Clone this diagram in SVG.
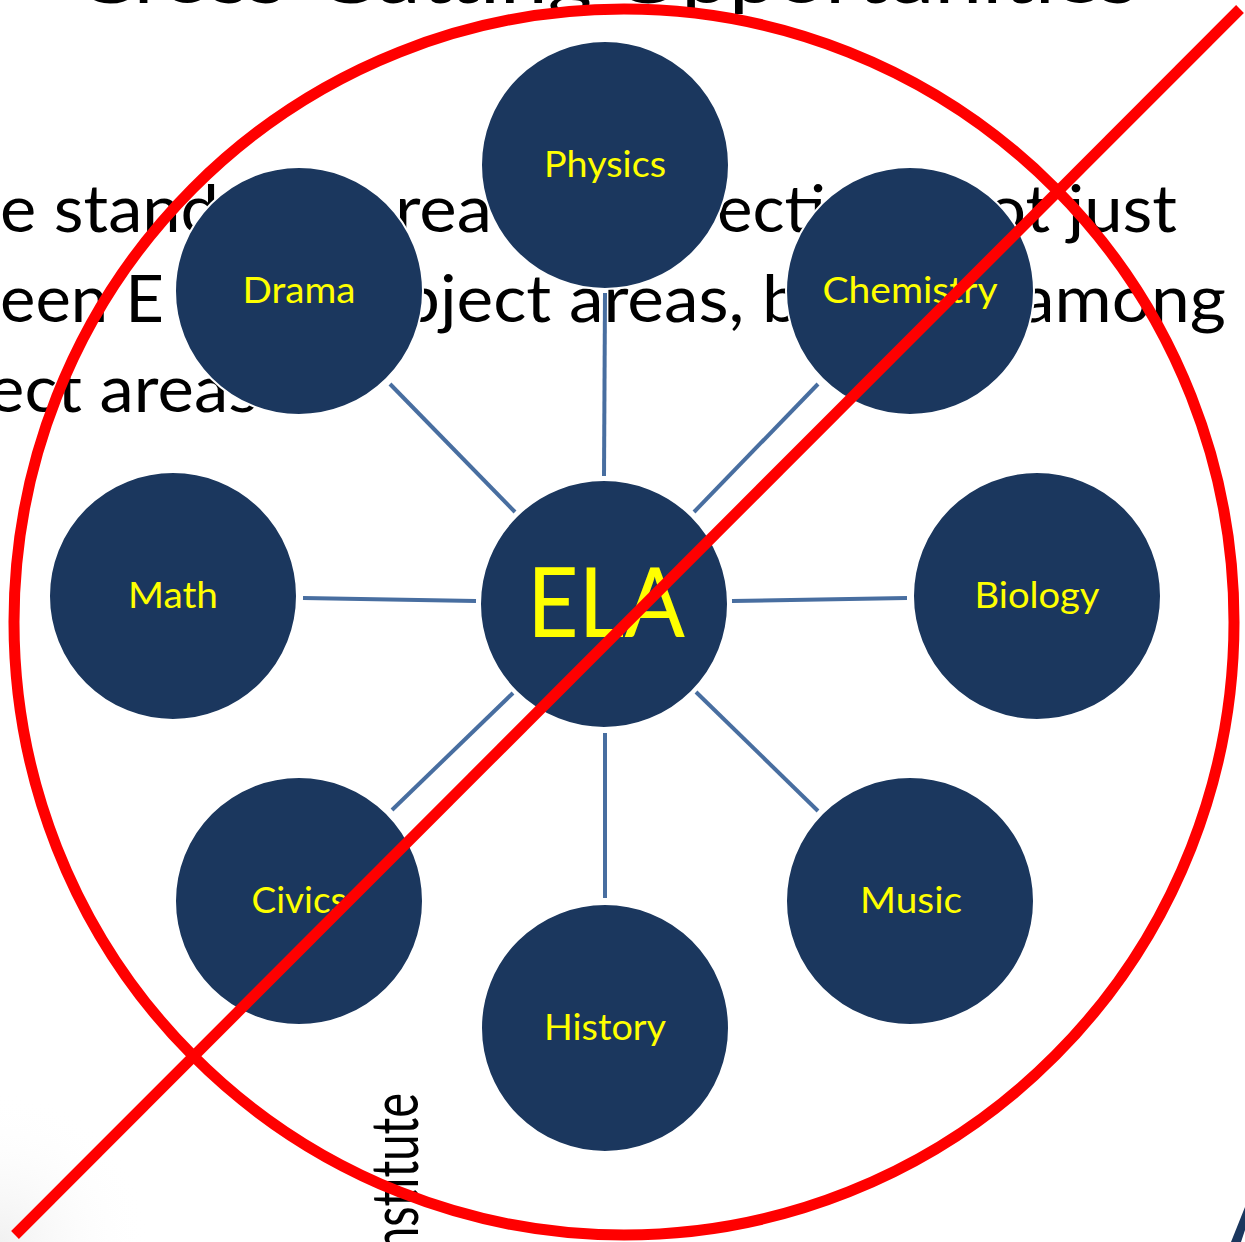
<svg xmlns="http://www.w3.org/2000/svg" width="1245" height="1242" viewBox="0 0 1245 1242">
  <defs>
    <style>
      .bg { font-family: Lato, "Open Sans", sans-serif; font-size: 65px; fill: #000000; }
      .node circle { fill: #1b375e; stroke: #ffffff; stroke-width: 2; }
      .node text { font-family: Lato, "Open Sans", sans-serif; font-size: 37px; fill: #ffff00; text-anchor: middle; }
      .conn line { stroke: #486ea0; stroke-width: 4; }
      .cross { fill: none; stroke: #ff0000; stroke-width: 11; }
    </style>
    <radialGradient id="corner" cx="0" cy="1242" r="150" gradientUnits="userSpaceOnUse">
      <stop offset="0" stop-color="#e0e0e0" stop-opacity="0.45"/>
      <stop offset="1" stop-color="#ffffff" stop-opacity="0"/>
    </radialGradient>
  </defs>
  <rect x="0" y="0" width="1245" height="1242" fill="#ffffff"/>
  <rect x="0" y="1092" width="150" height="150" fill="url(#corner)"/>

  <g id="background-text">
    <text class="bg" x="77" y="3" font-size="83" textLength="1060" lengthAdjust="spacingAndGlyphs">Cross-Cutting Opportunities</text>
    <text class="bg" x="0" y="232" textLength="219" lengthAdjust="spacingAndGlyphs">e stand</text>
    <text class="bg" x="395" y="232" textLength="97" lengthAdjust="spacingAndGlyphs">rea</text>
    <text class="bg" x="717" y="232" textLength="109" lengthAdjust="spacingAndGlyphs">ecti</text>
    <text class="bg" x="987" y="232" textLength="190" lengthAdjust="spacingAndGlyphs">ot just</text>
    <text class="bg" x="0" y="322" textLength="164" lengthAdjust="spacingAndGlyphs">een E</text>
    <text class="bg" x="401" y="322" textLength="400" lengthAdjust="spacingAndGlyphs">bject areas, b</text>
    <text class="bg" x="1020" y="322" textLength="206" lengthAdjust="spacingAndGlyphs">among</text>
    <text class="bg" x="-12" y="412" textLength="270" lengthAdjust="spacingAndGlyphs">ect areas</text>
    <text class="bg" font-size="40" transform="translate(418,1093) rotate(-90)" x="-160" y="0" textLength="160" lengthAdjust="spacingAndGlyphs">nstitute</text>
  </g>
  <polygon id="logo-fragment" points="1231,1242 1241,1242 1245,1230 1245,1207" fill="#1b375e"/>

  <g id="connectors" class="conn">
    <line x1="605" y1="293" x2="604" y2="476"/>
    <line x1="390" y1="384" x2="515" y2="512"/>
    <line x1="818" y1="384" x2="694" y2="512"/>
    <line x1="303" y1="598" x2="476" y2="601"/>
    <line x1="732" y1="601" x2="907" y2="598"/>
    <line x1="392" y1="810" x2="513" y2="693"/>
    <line x1="818" y1="811" x2="696" y2="692"/>
    <line x1="605" y1="733" x2="605" y2="898"/>
  </g>

  <g id="node-physics" class="node"><circle cx="605" cy="165" r="124"/><text x="605" y="177" textLength="122" lengthAdjust="spacingAndGlyphs">Physics</text></g>
  <g id="node-drama" class="node"><circle cx="299" cy="291" r="124"/><text x="299" y="303" textLength="113" lengthAdjust="spacingAndGlyphs">Drama</text></g>
  <g id="node-chemistry" class="node"><circle cx="910" cy="291" r="124"/><text x="910" y="303" textLength="175" lengthAdjust="spacingAndGlyphs">Chemistry</text></g>
  <g id="node-math" class="node"><circle cx="173" cy="596" r="124"/><text x="173" y="608" textLength="90" lengthAdjust="spacingAndGlyphs">Math</text></g>
  <g id="node-ela" class="node"><circle cx="604" cy="604" r="124"/><text x="606" y="637" style="font-size:96px" textLength="158" lengthAdjust="spacingAndGlyphs">ELA</text></g>
  <g id="node-biology" class="node"><circle cx="1037" cy="596" r="124"/><text x="1037" y="608" textLength="125" lengthAdjust="spacingAndGlyphs">Biology</text></g>
  <g id="node-civics" class="node"><circle cx="299" cy="901" r="124"/><text x="299" y="913" textLength="95" lengthAdjust="spacingAndGlyphs">Civics</text></g>
  <g id="node-music" class="node"><circle cx="910" cy="901" r="124"/><text x="911" y="913" textLength="102" lengthAdjust="spacingAndGlyphs">Music</text></g>
  <g id="node-history" class="node"><circle cx="605" cy="1028" r="124"/><text x="605" y="1040" textLength="122" lengthAdjust="spacingAndGlyphs">History</text></g>

  <g id="cross-out">
    <ellipse class="cross" cx="624" cy="622" rx="610" ry="613"/>
    <line class="cross" x1="15" y1="1235" x2="1240" y2="9" stroke-width="10"/>
  </g>
</svg>
